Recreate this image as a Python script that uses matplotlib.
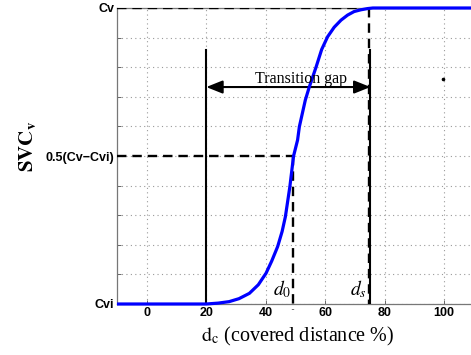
import matplotlib
matplotlib.use("Agg")
import matplotlib.pyplot as plt

plt.rcParams["mathtext.fontset"] = "stix"

# ---- data ----
curve_x = [-10, 0, 10, 20, 24, 27.7, 31, 34.5, 37.5, 40.1, 42, 44, 45.5, 46.6, 48.1, 49.35,
           50.7, 51.3, 53.3, 54.6, 56.9, 58.8, 60.8, 63, 65.3, 67.5, 69.7, 72, 74.2, 76, 80, 90, 100, 110]
curve_y = [0, 0, 0, 0, 0.003, 0.008, 0.018, 0.036, 0.065, 0.104, 0.145, 0.194, 0.245, 0.295, 0.396, 0.5,
           0.554, 0.599, 0.689, 0.732, 0.80, 0.86, 0.903, 0.935, 0.959, 0.976, 0.988, 0.994, 0.998, 1, 1, 1, 1, 1]

x_ticks = [0, 20, 40, 60, 80, 100]
x_tick_labels = ["0", "20", "40", "60", "80", "100"]
y_grid = [0, 0.1, 0.2, 0.3, 0.4, 0.5, 0.6, 0.7, 0.8, 0.9, 1.0]
y_tick_labels = {0: "Cvi", 0.5: "0.5(Cv\u2212Cvi)", 1.0: "Cv"}

d_start = 20      # start of transition
d_0 = 49.3        # half point
d_s = 74.6        # saturation
d_s_solid = 75.2
y_half = 0.5
y_top_line = 1.0
y_bar_top = 0.858
y_arrow = 0.733
dot_x, dot_y = 99.5, 0.76

fig = plt.figure(figsize=(4.71, 3.55), dpi=100)
ax = fig.add_axes([117/471, 1 - 304/355, 357/471, 296/355])
ax.set_xlim(-10, 110)
ax.set_ylim(0, 1)

# grid
ax.set_xticks(x_ticks)
ax.set_xticklabels(x_tick_labels, fontfamily="Liberation Sans", fontweight="bold", fontsize=9)
ax.set_yticks(y_grid)
ax.set_yticklabels([y_tick_labels.get(round(v, 1), "") for v in y_grid],
                   fontfamily="Liberation Sans", fontweight="bold", fontsize=9)
ax.grid(True, linestyle=(0, (1, 3)), color="#9a9a9a", linewidth=0.8)
ax.tick_params(direction="in", length=3, width=0.7, color="#666666", pad=2)
for s in ax.spines.values():
    s.set_color("#777777")
    s.set_linewidth(0.9)

dash = (0, (4, 2.5))
# dashed reference lines
ax.plot([-10, d_s], [y_top_line, y_top_line], color="black", lw=1.7, linestyle=dash, zorder=4)
ax.plot([-10, d_0], [y_half, y_half], color="black", lw=1.7, linestyle=dash, zorder=4)
ax.plot([d_0, d_0], [y_half, -0.02], color="black", lw=1.7, linestyle=dash, zorder=4, clip_on=False)
ax.plot([d_s, d_s], [y_top_line, 0], color="black", lw=1.7, linestyle=dash, zorder=4)

# solid verticals
ax.plot([d_start, d_start], [0, y_bar_top], color="black", lw=1.5, zorder=3)
ax.plot([d_s_solid, d_s_solid], [0, y_bar_top], color="black", lw=1.5, zorder=3)

# curve
ax.plot(curve_x, curve_y, color="#0000ff", lw=2.3, zorder=5, clip_on=False,
        solid_capstyle="butt")

# double arrow
ax.annotate("", xy=(d_start, y_arrow), xytext=(d_s_solid, y_arrow),
            arrowprops=dict(arrowstyle="<|-|>,head_length=0.7,head_width=0.28",
                            color="black", lw=1.5, shrinkA=0, shrinkB=0,
                            mutation_scale=14),
            zorder=4)
ax.text(51.9, y_arrow + 0.012, "Transition gap", fontfamily="Liberation Serif",
        fontsize=11.5, ha="center", va="baseline", zorder=6)

ax.plot([dot_x], [dot_y], marker="o", markersize=1.6, color="black", linestyle="none")

# d labels
ax.text(d_0 - 0.6, 0.015, r"$d_0$", fontsize=14, ha="right", va="bottom")
ax.text(d_s - 0.8, 0.015, r"$d_s$", fontsize=14, ha="right", va="bottom")

# axis labels
fig.text(298/471, 1 - 341/355, r"$\mathrm{d_c}$ (covered distance %)",
         fontfamily="Liberation Serif", fontsize=14.5, ha="center", va="baseline")

fig.text(38/471, 1 - 172/355, r"$\mathbf{SVC_v}$", fontsize=15,
         rotation=90, ha="left", va="bottom", rotation_mode="anchor")

fig.savefig("out.png", dpi=100)
